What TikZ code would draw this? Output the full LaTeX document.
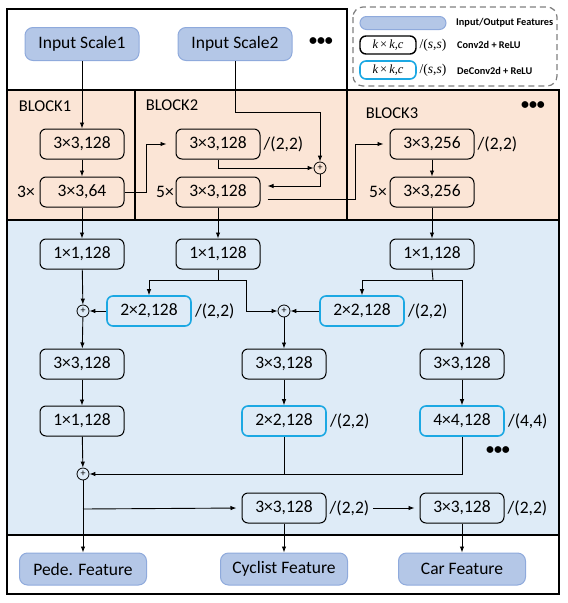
\documentclass[tikz,border=0pt]{standalone}
\usepackage{fontspec}
\setmainfont{Carlito}
\newfontfamily\ser{Liberation Serif}
\usetikzlibrary{arrows.meta,calc}
\definecolor{orangebg}{HTML}{FBE5D6}
\definecolor{bluebg}{HTML}{DEEBF7}
\definecolor{featfill}{HTML}{B4C7E7}
\definecolor{featdraw}{HTML}{8FAADC}
\definecolor{cyanc}{HTML}{1CA8E3}
\definecolor{legdash}{HTML}{7F7F7F}
\begin{document}
\begin{tikzpicture}[x=1pt,y=-1pt,
 every node/.style={font=\fontsize{17.5}{20}\selectfont},
 conv/.style={draw, rounded corners=6pt, line width=1pt, minimum width=84pt, minimum height=30pt, inner sep=0pt},
 deconv/.style={conv, draw=cyanc, line width=1.6pt},
 feat/.style={draw=featdraw, fill=featfill, line width=1pt, rounded corners=8pt, minimum width=127pt, minimum height=32pt, inner sep=0pt, font=\fontsize{17.5}{20}\selectfont},
 inbox/.style={feat, minimum width=114pt, minimum height=33pt},
 addn/.style={circle, draw, line width=0.8pt, minimum size=12pt, inner sep=0pt, font=\fontsize{10}{10}\selectfont},
 lbl/.style={inner sep=0pt},
 strd/.style={inner sep=0pt, anchor=west, xshift=3pt},
 dots/.style={inner sep=0pt, font=\fontsize{16}{16}\selectfont\bfseries},
 legtxt/.style={inner sep=0pt, anchor=west, font=\fontsize{10.3}{12}\selectfont\bfseries},
 legbox/.style={draw, line width=1.4pt, rounded corners=6pt, minimum width=56pt, minimum height=18pt, inner sep=0pt, font=\fontsize{12.5}{13}\selectfont},
 legs/.style={lbl, font=\fontsize{13.5}{14}\selectfont\ser},
 arr/.style={-{Latex[length=6pt,width=4.5pt]}, line width=0.9pt},
 ln/.style={line width=0.9pt},
 frame/.style={line width=1.2pt}
]
\useasboundingbox (0,0) rectangle (568,603);
% backgrounds and frames
\fill[orangebg] (7,90) rectangle (559,220);
\fill[bluebg] (7,220) rectangle (559,535);
\draw[frame] (7,9) rectangle (347,90);
\draw[frame] (7,90) rectangle (559,594);
\draw[frame] (7,220) -- (559,220);
\draw[frame] (7,535) -- (559,535);
\draw[frame] (135,90) -- (135,220);
\draw[frame] (347,90) -- (347,220);

% legend
\draw[legdash, dash pattern=on 6pt off 4pt, line width=1.2pt, rounded corners=10pt] (353,7) rectangle (557,86);
\node[draw=featdraw, fill=featfill, line width=1pt, rounded corners=6.5pt, minimum width=86pt, minimum height=13pt, inner sep=0pt] (lg1) at (403,23) {};
\node[legtxt] (lg1t) at (456,23) {Input/Output Features};
\node[legbox] (lg2) at (388,45) {\ser\itshape k\,\upshape×\,\itshape k,c};
\node[legs] (lg2s) at (433,45) {/(\textit{s},\textit{s})};
\node[legtxt] (lg2t) at (457,45) {Conv2d + ReLU};
\node[legbox, draw=cyanc, line width=1.6pt] (lg3) at (388,70) {\ser\itshape k\,\upshape×\,\itshape k,c};
\node[legs] (lg3s) at (433,70) {/(\textit{s},\textit{s})};
\node[legtxt] (lg3t) at (457,71) {DeConv2d + ReLU};

% inputs
\node[inbox] (in1) at (82,44) {Input Scale1};
\node[inbox] (in2) at (235,44) {Input Scale2};
\node[dots] (dt1) at (321,42) {•••};

% block labels
\node[lbl, font=\fontsize{16.5}{19}\selectfont] (bl1) at (45,106) {BLOCK1};
\node[lbl, font=\fontsize{16.5}{19}\selectfont] (bl2) at (172,105) {BLOCK2};
\node[lbl, font=\fontsize{16.5}{19}\selectfont] (bl3) at (392,113) {BLOCK3};
\node[dots] (dt2) at (533,106) {•••};

% block 1
\node[conv] (b1a) at (82,144) {3×3,128};
\node[conv] (b1b) at (82,192) {3×3,64};
\node[lbl] (m1) at (26,192) {3×};
% block 2
\node[conv] (b2a) at (218,144) {3×3,128};
\node[strd] (s2a) at (b2a.east) {/(2,2)};
\node[conv] (b2b) at (218,192) {3×3,128};
\node[lbl] (m2) at (165,192) {5×};
\node[addn] (c0) at (320,168) {+};
% block 3
\node[conv] (b3a) at (432,144) {3×3,256};
\node[strd] (s3a) at (b3a.east) {/(2,2)};
\node[conv] (b3b) at (432,192) {3×3,256};
\node[lbl] (m3) at (378,192) {5×};

% neck
\node[conv] (p1) at (82,254) {1×1,128};
\node[conv] (p2) at (218,254) {1×1,128};
\node[conv] (p3) at (432,254) {1×1,128};
\node[addn] (c1) at (83,311) {+};
\node[deconv] (d1) at (149,311) {2×2,128};
\node[strd] (sd1) at (d1.east) {/(2,2)};
\node[addn] (c2) at (284,311) {+};
\node[deconv] (d2) at (362,311) {2×2,128};
\node[strd] (sd2) at (d2.east) {/(2,2)};
\node[conv] (q1) at (82,364) {3×3,128};
\node[conv] (q2) at (284,364) {3×3,128};
\node[conv] (q3) at (462,364) {3×3,128};
\node[conv] (r1) at (82,421) {1×1,128};
\node[deconv] (r2) at (284,421) {2×2,128};
\node[strd] (sr2) at (r2.east) {/(2,2)};
\node[deconv] (r3) at (462,421) {4×4,128};
\node[strd] (sr3) at (r3.east) {/(4,4)};
\node[dots] (dt3) at (498,451) {•••};
\node[addn] (c3) at (83,474) {+};
\node[conv] (t1) at (284,508) {3×3,128};
\node[strd] (st1) at (t1.east) {/(2,2)};
\node[conv] (t2) at (462,508) {3×3,128};
\node[strd] (st2) at (t2.east) {/(2,2)};

% outputs
\node[feat] (f1) at (83,569) {Pede. Feature};
\node[feat] (f2) at (284,569) {Cyclist Feature};
\node[feat] (f3) at (462,569) {Car Feature};

% coordinates
\coordinate (k1) at (146,192);
\coordinate (k2) at (235,112);
\coordinate (k3) at (355,199);
\coordinate (br2) at (218,280);
\coordinate (br2r) at (246,280);
\coordinate (br3) at (433,280);
\coordinate (j3) at (83,509);

% connectors block area
\draw[arr] (in1.south) -- (b1a.north);
\draw[arr] (b1a) -- (b1b);
\draw[arr, shorten >=9pt] (b1b.east) -- (k1) |- (b2a.west);
\draw[arr] (in2.south) -- (k2) -| (c0.north);
\draw[arr] (b2a.south) |- (c0.west);
\draw[arr, shorten >=7pt] (c0.south) |- ([yshift=6pt]b2b.east);
\draw[arr, shorten >=6pt] ([xshift=7pt,yshift=-7pt]b2b.east) -- (k3) |- (b3a.west);
\draw[arr] (b3a) -- (b3b);
\draw[arr] (b1b) -- (p1);
\draw[arr] (b2b) -- (p2);
\draw[arr] (b3b) -- (p3);

% neck connectors
\draw[arr] (p1) -- (c1);
\draw[arr] (d1.west) -- (c1.east);
\draw[ln] (p2.south) -- (br2);
\draw[arr] (br2) -| (d1.north);
\draw[arr] (br2) -- (br2r) |- (c2.west);
\draw[arr] (d2.west) -- (c2.east);
\draw[ln] (p3.south) -- (br3);
\draw[arr] (br3) -| (d2.north);
\draw[arr] (br3) -| (q3.north);
\draw[arr] (c1) -- (q1);
\draw[arr] (c2) -- (q2);
\draw[arr] (q1) -- (r1);
\draw[arr] (q2) -- (r2);
\draw[arr] (q3) -- (r3);
\draw[arr] (r1) -- (c3);
\draw[ln] (r2.south) -- (r2.south |- c3);
\draw[arr] (r3.south) |- (c3.east);
\draw[arr] (c3.south) -- (f1.north);
\draw[arr, shorten >=5pt] (j3) -- (t1.west);
\draw[arr, shorten >=5pt] ([xshift=4pt]st1.east) -- (t2.west);
\draw[arr] (t1) -- (f2);
\draw[arr] (t2) -- (f3);
\end{tikzpicture}
\end{document}
